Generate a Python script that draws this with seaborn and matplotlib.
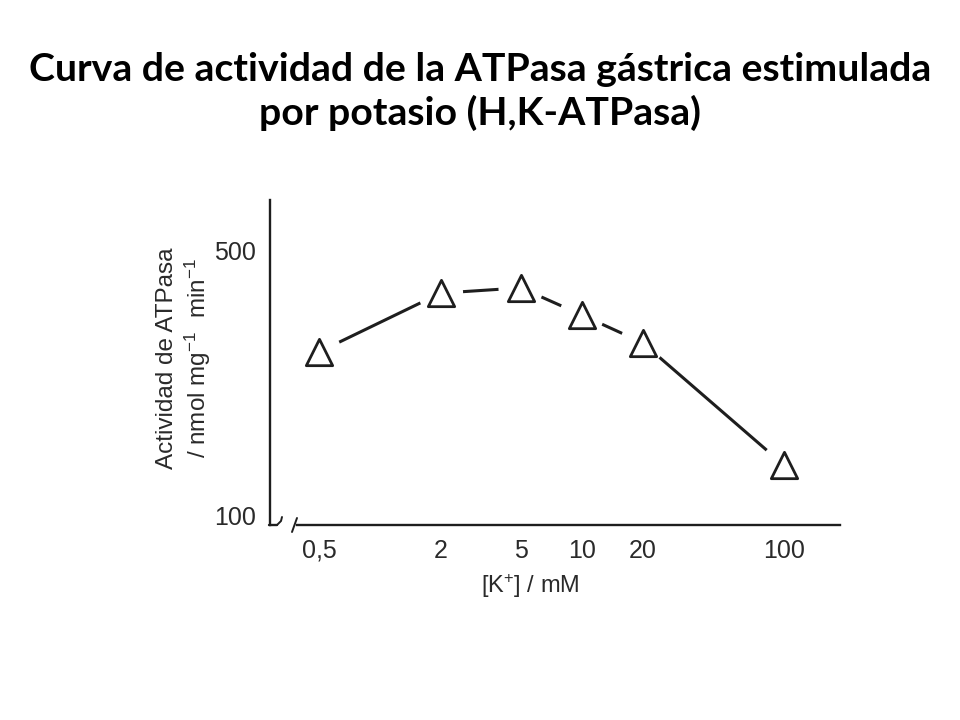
import matplotlib
matplotlib.use("Agg")
import matplotlib.pyplot as plt
import seaborn as sns
import pandas as pd

# ---- data ----
k_conc = [0.5, 2, 5, 10, 20, 100]
actividad = [347, 436, 444, 403, 361, 176]
x_ticks = [0.5, 2, 5, 10, 20, 100]
x_tick_labels = ["0,5", "2", "5", "10", "20", "100"]
y_ticks = [100, 200, 300, 400, 500]
y_tick_labels = ["100", "", "", "", "500"]
title_lines = ["Curva de actividad de la ATPasa gástrica estimulada",
               "por potasio (H,K-ATPasa)"]
x_label = "[K$^{+}$] / mM"
y_label = "Actividad de ATPasa\n/ nmol mg$^{-1}$  min$^{-1}$"

sns.set_theme(style="white")
plt.rcParams['font.family'] = ['Liberation Sans', 'DejaVu Sans']
plt.rcParams['mathtext.fontset'] = 'custom'
plt.rcParams['mathtext.rm'] = 'Liberation Sans'
plt.rcParams['mathtext.it'] = 'Liberation Sans:italic'
plt.rcParams['mathtext.bf'] = 'Liberation Sans:bold'

ink = "#1e1e1e"
txt = "#2a2a2a"
W, H = 960, 720
fig = plt.figure(figsize=(9.6, 7.2), dpi=100)
fig.patch.set_facecolor("white")

ax_l, ax_r, ax_t, ax_b = 270, 840, 200, 525
ax = fig.add_axes([ax_l / W, 1 - ax_b / H, (ax_r - ax_l) / W, (ax_b - ax_t) / H])
ax.set_facecolor("white")

df = pd.DataFrame({"K": k_conc, "A": actividad})
sns.lineplot(data=df, x="K", y="A", ax=ax, color=ink, lw=2.2, zorder=1)
# white halo so the line stops short of each marker
sns.scatterplot(data=df, x="K", y="A", ax=ax, marker="o", s=1050,
                color="white", edgecolor="none", zorder=2)
sns.scatterplot(data=df, x="K", y="A", ax=ax, marker="^", s=360,
                facecolor="white", edgecolor=ink, linewidth=2.0, zorder=3)

ax.set_xscale("log")
ax.set_xlim(0.286, 190)
ax.set_ylim(85, 577)
ax.set_xticks(x_ticks)
ax.set_xticklabels(x_tick_labels)
ax.minorticks_off()
ax.set_yticks(y_ticks)
ax.set_yticklabels(y_tick_labels)
ax.tick_params(axis="both", direction="in", length=6, width=1.2, colors=ink,
               labelsize=18, labelcolor=txt)
ax.tick_params(axis="x", pad=10)
ax.tick_params(axis="y", pad=10)
ax.set_xlabel(x_label, fontsize=17, color=txt)
ax.set_ylabel(y_label, fontsize=17.5, color=txt, linespacing=1.2)
ax.xaxis.set_label_coords(0.456, (ax_b - 572) / (ax_b - ax_t))
ax.yaxis.set_label_coords((213 - ax_l) / (ax_r - ax_l), (ax_b - 358) / (ax_b - ax_t))

sns.despine(ax=ax)
for side in ["left", "bottom"]:
    ax.spines[side].set_color(ink)
    ax.spines[side].set_linewidth(1.7)
ax.spines["bottom"].set_bounds(0.39, 190)

# axis break marks near the origin
def fx(px):
    return (px - ax_l) / (ax_r - ax_l)

def fy(py):
    return (ax_b - py) / (ax_b - ax_t)

ax.plot([fx(269), fx(277)], [fy(525), fy(525)], transform=ax.transAxes,
        color=ink, lw=1.7, clip_on=False)
ax.plot([fx(277), fx(281), fx(282)], [fy(525), fy(521), fy(517)],
        transform=ax.transAxes, color=ink, lw=1.4, clip_on=False)
ax.plot([fx(292), fx(297)], [fy(532), fy(518)], transform=ax.transAxes,
        color=ink, lw=1.4, clip_on=False)

# title
title_kw = dict(ha="center", va="baseline", fontsize=28.3, fontweight="bold",
                family=["Lato", "DejaVu Sans"], color="black")
fig.text(0.5, 1 - 81 / H, title_lines[0], **title_kw)
fig.text(0.5, 1 - 125 / H, title_lines[1], **title_kw)

fig.savefig("out.png", dpi=100, facecolor="white")
